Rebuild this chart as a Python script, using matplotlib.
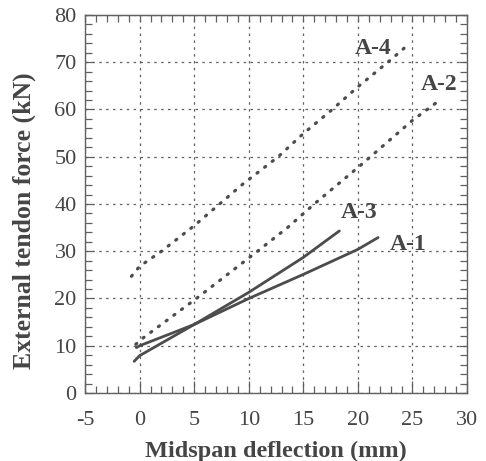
import matplotlib
matplotlib.use("Agg")
import matplotlib.pyplot as plt
from matplotlib.ticker import MultipleLocator, NullFormatter

# ---- Ma'lumotlar (rasmdan o'qilgan) ----
a1_x = [-0.3, 0.0, 5.0, 10.0, 15.0, 20.0, 21.85]
a1_y = [9.6, 10.0, 14.5, 20.0, 25.1, 30.4, 32.9]

a3_x = [-0.5, 0.0, 5.0, 10.0, 15.0, 18.3]
a3_y = [6.7, 7.9, 14.5, 21.3, 28.7, 34.3]

a2_x = [-0.35, 0.0, 5.2, 10.8, 13.6, 16.0, 20.2, 25.0, 27.4]
a2_y = [10.3, 11.1, 20.0, 30.0, 35.1, 40.0, 48.1, 57.7, 61.8]

a4_x = [-0.75, 0.0, 2.0, 5.0, 9.5, 12.7, 15.0, 17.6, 20.0, 23.0, 24.4]
a4_y = [24.7, 26.8, 30.0, 35.4, 44.3, 50.0, 54.9, 59.9, 64.8, 70.5, 73.3]

labels = ["A-1", "A-2", "A-3", "A-4"]
label_x = [24.6, 27.4, 20.1, 21.4]
label_y = [31.5, 65.2, 38.1, 73.0]

LINE = "#4c4c4c"
TEXT = "#454545"
AXC = "#606060"

plt.rcParams["font.family"] = ["Liberation Serif", "DejaVu Serif"]
plt.rcParams["axes.unicode_minus"] = False

fig = plt.figure(figsize=(4.86, 4.61), dpi=100, facecolor="white")
ax = fig.add_axes([0.175, 0.1475, 0.786, 0.82])

ax.plot(a1_x, a1_y, color=LINE, lw=2.0, solid_capstyle="round")
ax.plot(a3_x, a3_y, color=LINE, lw=2.0, solid_capstyle="round")
dots = (0, (0.4, 2.6))
ax.plot(a2_x, a2_y, color=LINE, lw=2.3, ls=dots, dash_capstyle="round")
ax.plot(a4_x, a4_y, color=LINE, lw=2.3, ls=dots, dash_capstyle="round")

for name, lx, ly in zip(labels, label_x, label_y):
    ax.text(lx, ly, name, ha="center", va="center", fontsize=17,
            fontweight="bold", color=TEXT)

ax.set_xlim(-5, 30)
ax.set_ylim(0, 80)
ax.xaxis.set_major_locator(MultipleLocator(5))
ax.xaxis.set_minor_locator(MultipleLocator(1))
ax.yaxis.set_major_locator(MultipleLocator(10))
ax.yaxis.set_minor_locator(MultipleLocator(2))

ax.grid(True, which="major", color=AXC, lw=0.9, ls=(0, (2, 3.5)))
ax.tick_params(which="both", direction="in", colors=AXC, labelcolor=TEXT,
               labelsize=16, right=True, width=0.9)
ax.tick_params(axis="x", which="major", length=9, pad=13)
ax.tick_params(axis="y", which="major", length=6, pad=6)
ax.tick_params(which="minor", length=5)

# yuqori o'q: qisqa ichki chiziqchalar, yozuvsiz
top = ax.secondary_xaxis("top")
top.xaxis.set_major_locator(MultipleLocator(5))
top.xaxis.set_minor_locator(MultipleLocator(1))
top.xaxis.set_major_formatter(NullFormatter())
top.tick_params(which="both", direction="in", colors=AXC, length=5, width=0.9)
top.spines["top"].set_color(AXC)

for spine in ax.spines.values():
    spine.set_color(AXC)
    spine.set_linewidth(1.0)

ax.set_xlabel("Midspan deflection (mm)", fontsize=17.5, fontweight="bold",
              color=TEXT, labelpad=8)
ax.set_ylabel("External tendon force (kN)", fontsize=18.5, fontweight="bold",
              color=TEXT)
ax.yaxis.set_label_coords(-0.128, 0.455)

fig.savefig("out.png", dpi=100, facecolor=fig.get_facecolor())
plt.close(fig)
